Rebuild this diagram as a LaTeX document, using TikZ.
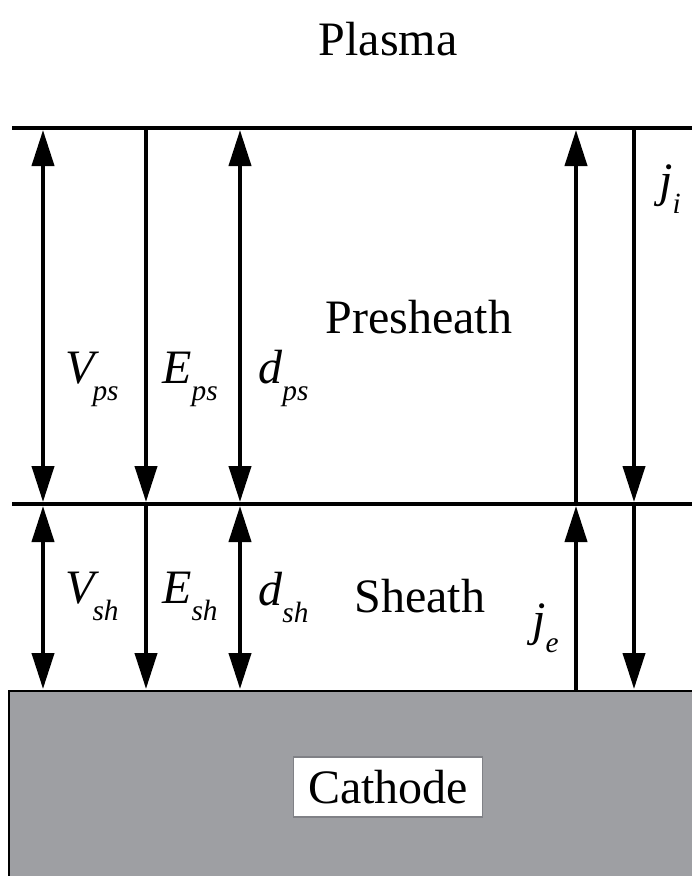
\documentclass[tikz,border=0pt]{standalone}
\usepackage{fontspec}
\setmainfont{Liberation Serif}
\usetikzlibrary{arrows.meta}
\definecolor{cathodegray}{RGB}{158,159,163}
\definecolor{boxgray}{RGB}{128,129,134}
\newcommand{\qlab}[3][0pt]{\textit{#2}\kern#1\raisebox{-13pt}{\fontsize{22}{24}\selectfont\textit{#3}}}

\begin{document}
\begin{tikzpicture}[x=0.75pt,y=-0.75pt,
  every node/.style={font=\fontsize{36}{40}\selectfont,inner sep=0pt},
  arr/.style={-{Triangle[length=27pt,width=16.5pt]},line width=3pt,shorten >=1.5pt},
  darr/.style={{Triangle[length=27pt,width=16.5pt]}-{Triangle[length=27pt,width=16.5pt]},line width=3pt,shorten >=1.5pt,shorten <=1.5pt},
  border/.style={line width=3pt}]
\useasboundingbox (0,0) rectangle (692,876);
% cathode
\fill[cathodegray] (9,691) rectangle (700,880);
\draw[line width=2pt] (9,880) -- (9,691) -- (700,691);
\node[fill=white,draw=boxgray,line width=1pt,minimum width=142pt,minimum height=45pt] (cathode) at (388,787) {Cathode};
% boundaries
\draw[border] (12,128) -- (700,128);
\draw[border] (12,504) -- (700,504);
\coordinate (Vtop) at (43,128);
\coordinate (Vmid) at (43,504);
\coordinate (Vbot) at (43,691);
\coordinate (Etop) at (146,128);
\coordinate (Emid) at (146,504);
\coordinate (Ebot) at (146,691);
\coordinate (dtop) at (240,128);
\coordinate (dmid) at (240,504);
\coordinate (dbot) at (240,691);
\coordinate (jetop) at (576,128);
\coordinate (jemid) at (576,504);
\coordinate (jebot) at (576,691);
\coordinate (jitop) at (634,128);
\coordinate (jimid) at (634,504);
\coordinate (jibot) at (634,691);
% arrows
\draw[darr] (Vtop) -- (Vmid);
\draw[darr] (Vmid) -- (Vbot);
\draw[arr] (Etop) -- (Emid);
\draw[arr] (Emid) -- (Ebot);
\draw[darr] (dtop) -- (dmid);
\draw[darr] (dmid) -- (dbot);
\draw[arr] (jebot) -- (jemid);
\draw[arr] (jemid) -- (jetop);
\draw[arr] (jitop) -- (jimid);
\draw[arr] (jimid) -- (jibot);
% labels
\node[anchor=base] (plasma) at (388,55) {Plasma};
\node[anchor=base] (presheath) at (419,333) {Presheath};
\node[anchor=base] (sheath) at (420,612) {Sheath};
\node[anchor=base west] (Vps) at (65,383) {\qlab[-5pt]{V}{ps}};
\node[anchor=base west] (Eps) at (162,383) {\qlab{E}{ps}};
\node[anchor=base west] (dps) at (258,383) {\qlab{d}{ps}};
\node[anchor=base west] (Vsh) at (65,603) {\qlab[-5pt]{V}{sh}};
\node[anchor=base west] (Esh) at (162,603) {\qlab{E}{sh}};
\node[anchor=base west] (dsh) at (258,605) {\qlab{d}{sh}};
\node[anchor=base west] (je) at (532,635) {\qlab{j}{e}};
\node[anchor=base west] (ji) at (659,196) {\qlab{j}{i}};
\end{tikzpicture}
\end{document}
